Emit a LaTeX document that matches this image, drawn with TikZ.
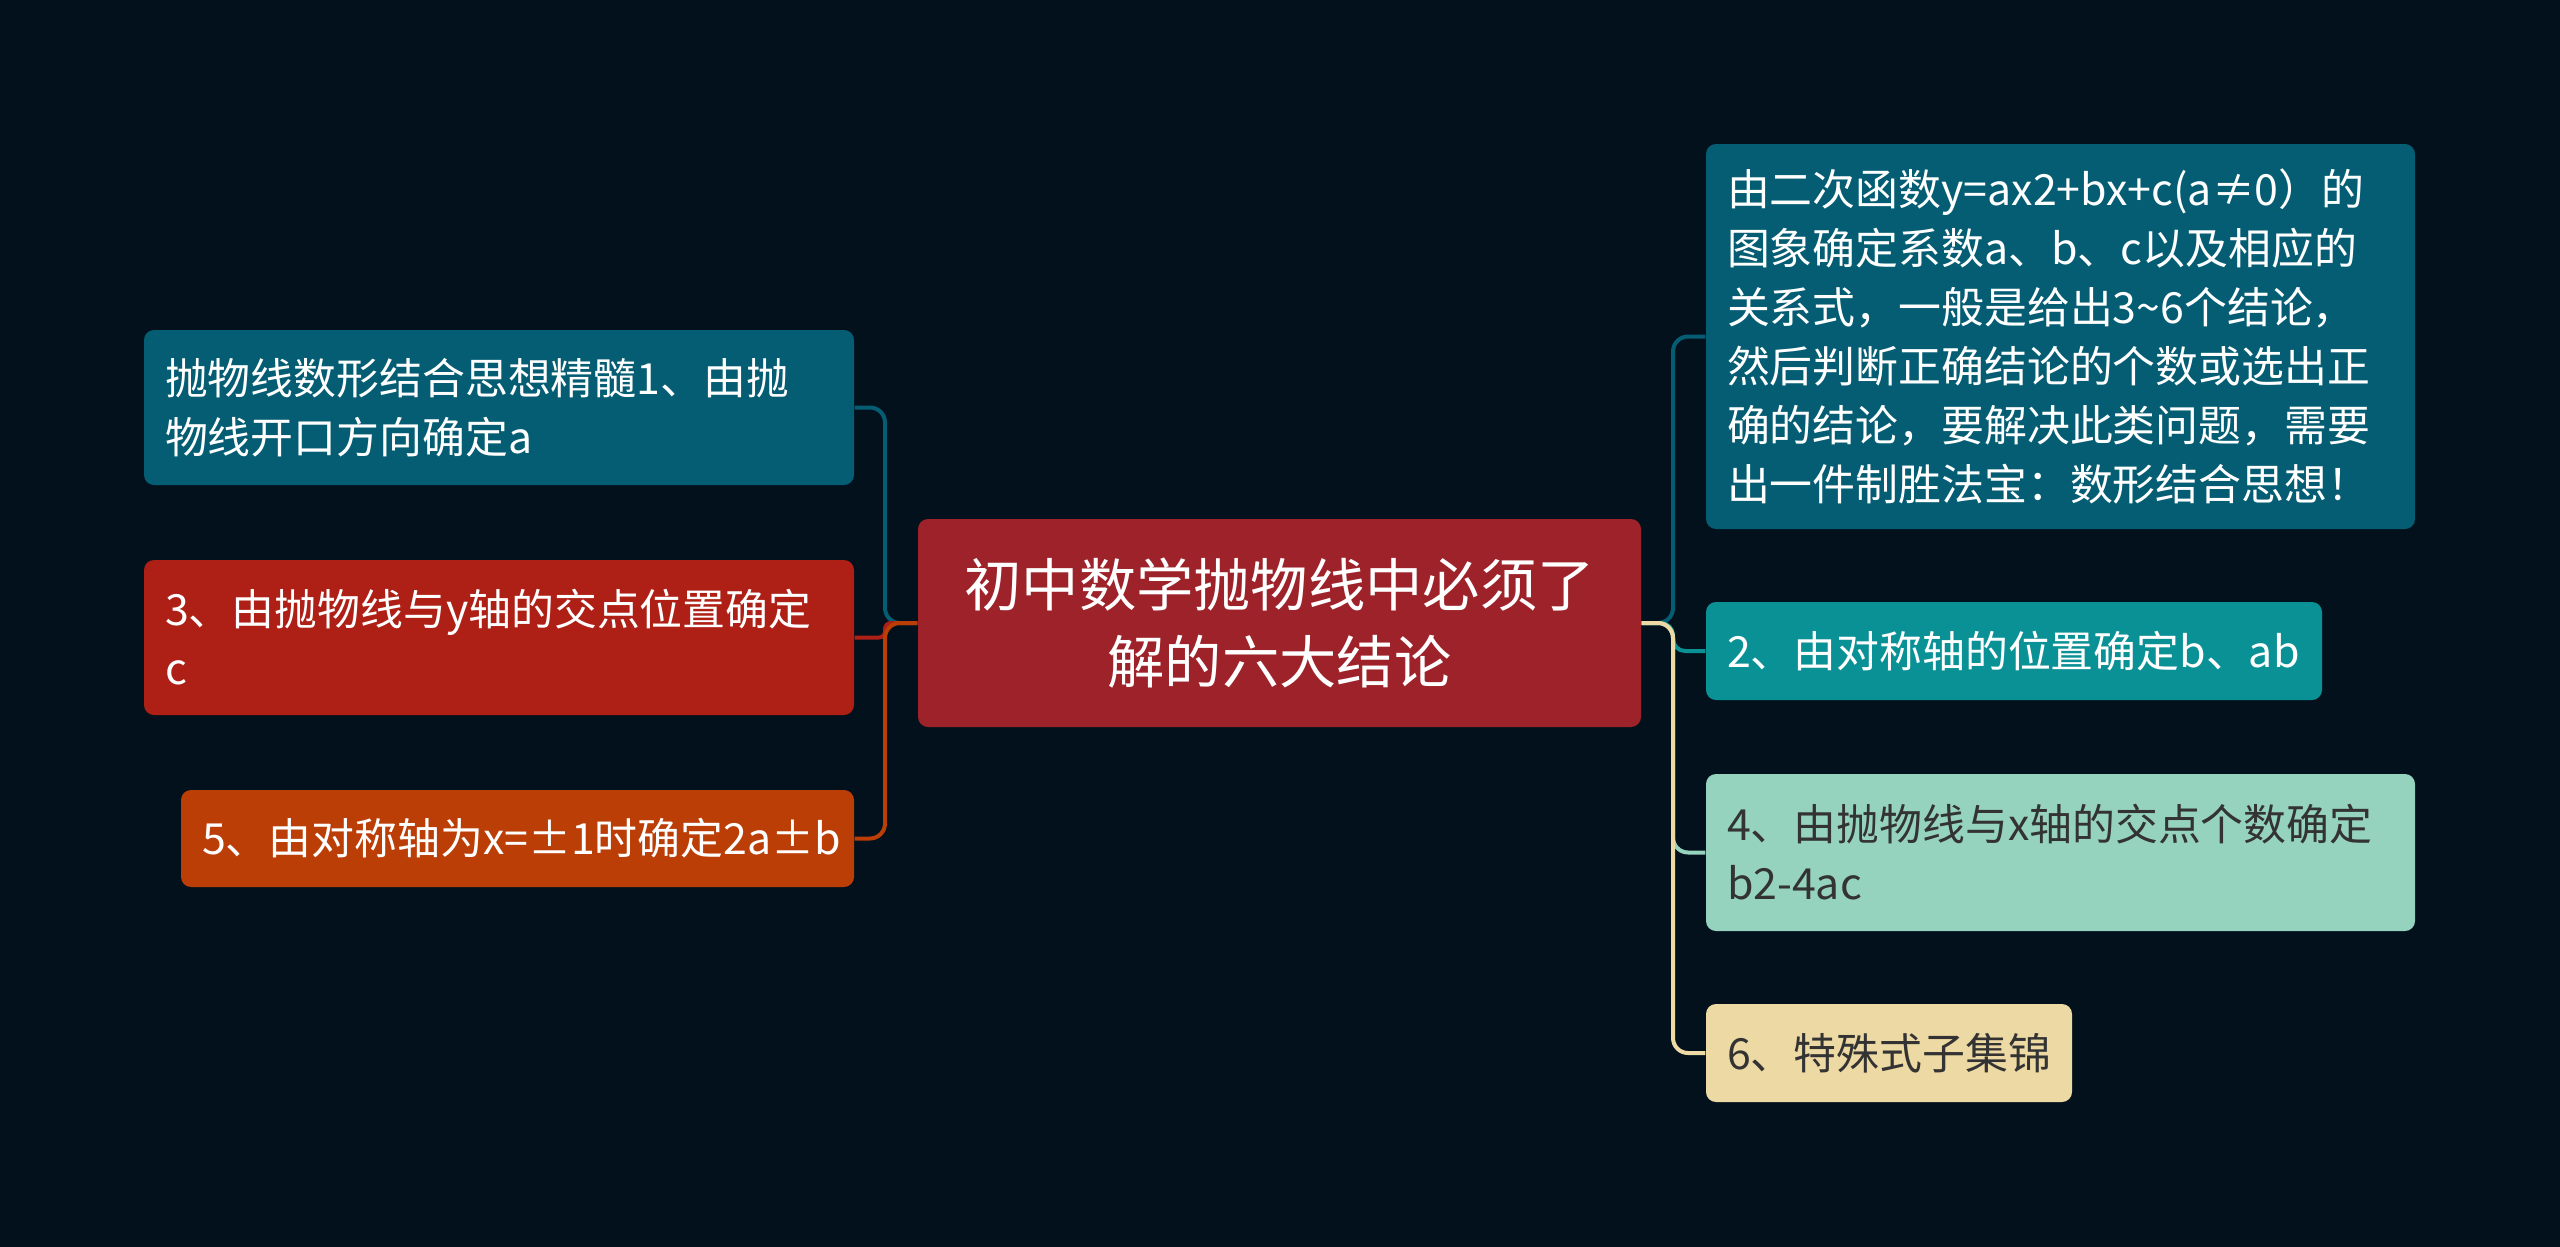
\documentclass[tikz,border=0pt]{standalone}
\usepackage{fontspec}
\newfontfamily\cjk{Noto Sans CJK SC}
\definecolor{bgdark}{HTML}{02111B}
\definecolor{rootred}{HTML}{9E2229}
\definecolor{deepteal}{HTML}{055D73}
\definecolor{brickred}{HTML}{AE1F15}
\definecolor{burnorange}{HTML}{BB3E07}
\definecolor{seateal}{HTML}{0A9196}
\definecolor{mint}{HTML}{96D3BE}
\definecolor{sand}{HTML}{EDD9A3}
\definecolor{inkgray}{HTML}{333333}
\tikzstyle{root} = [rectangle, rounded corners=0.1cm, fill=rootred, text=white, minimum width=7.23cm, minimum height=2.08cm, text width=6.81cm, align=center, font=\cjk\fontsize{16.3}{21.9}\selectfont]
\tikzstyle{leaf} = [rectangle, rounded corners=0.1cm, inner xsep=0.21cm, inner ysep=0.1cm, text=white, align=left, font=\cjk\fontsize{12.2}{16.8}\selectfont]
\tikzstyle{branch} = [line width=0.04cm, rounded corners=0.15cm]

\begin{document}
\begin{tikzpicture}
	\fill [bgdark] (0,0) rectangle (25.6,-12.47);
	\useasboundingbox (0,0) rectangle (25.6,-12.47);

	\node [root] at (12.795,-6.23) (root) {初中数学抛物线中必须了\\解的六大结论};
	\node [leaf, fill=deepteal, text width=6.68cm, minimum height=1.55cm] at (4.99,-4.075) (l1) {抛物线数形结合思想精髓1、由抛\\物线开口方向确定a};
	\node [leaf, fill=brickred, text width=6.68cm, minimum height=1.55cm] at (4.99,-6.375) (l2) {3、由抛物线与y轴的交点位置确定\\c};
	\node [leaf, fill=burnorange, text width=6.31cm, minimum height=0.97cm] at (5.175,-8.385) (l3) {5、由对称轴为x=±1时确定2a±b};
	\node [leaf, fill=deepteal, text width=6.67cm, minimum height=3.85cm] at (20.605,-3.365) (r1) {由二次函数y=ax2+bx+c(a≠0）的\\图象确定系数a、b、c以及相应的\\关系式，一般是给出3\textasciitilde 6个结论，\\然后判断正确结论的个数或选出正\\确的结论，要解决此类问题，需要\\出一件制胜法宝：数形结合思想！};
	\node [leaf, fill=seateal, text width=5.74cm, minimum height=0.98cm] at (20.14,-6.51) (r2) {2、由对称轴的位置确定b、ab};
	\node [leaf, fill=mint, text=inkgray, text width=6.67cm, minimum height=1.57cm] at (20.605,-8.525) (r3) {4、由抛物线与x轴的交点个数确定\\b2-4ac};
	\node [leaf, fill=sand, text=inkgray, text width=3.24cm, minimum height=0.98cm] at (18.89,-10.53) (r4) {6、特殊式子集锦};

	\coordinate (ljoin) at (8.85,-6.23);
	\coordinate (rjoin) at (16.73,-6.23);

	\draw [branch, deepteal] (root.west) -- (ljoin) |- (l1.east);
	\draw [branch, brickred, rounded corners=0.06cm] (root.west) -- (ljoin) |- (l2.east);
	\draw [branch, burnorange] (root.west) -- (ljoin) |- (l3.east);
	\draw [branch, deepteal] (root.east) -- (rjoin) |- (r1.west);
	\draw [branch, seateal, rounded corners=0.12cm] (root.east) -- (rjoin) |- (r2.west);
	\draw [branch, mint] (root.east) -- (rjoin) |- (r3.west);
	\draw [branch, sand] (root.east) -- (rjoin) |- (r4.west);
\end{tikzpicture}
\end{document}
